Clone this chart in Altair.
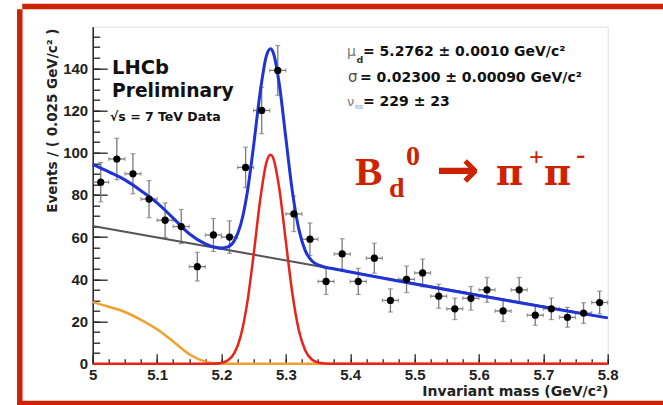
import altair as alt
import pandas as pd

# ---------------- data ----------------
mass = [5.0125, 5.0375, 5.0625, 5.0875, 5.1125, 5.1375, 5.1625, 5.1875,
        5.2125, 5.2375, 5.2625, 5.2875, 5.3125, 5.3375, 5.3625, 5.3875,
        5.4125, 5.4375, 5.4625, 5.4875, 5.5125, 5.5375, 5.5625, 5.5875,
        5.6125, 5.6375, 5.6625, 5.6875, 5.7125, 5.7375, 5.7625, 5.7875]
events = [86, 97, 90, 78, 68, 65, 46, 61, 60, 93, 120, 139, 71, 59, 39, 52,
          39, 50, 30, 40, 43, 32, 26, 31, 35, 25, 35, 23, 26, 22, 24, 29]
errors = [9.3, 9.8, 9.5, 8.8, 8.2, 8.1, 6.8, 7.8, 7.7, 9.6, 11.0, 11.8, 8.4, 7.7, 6.2, 7.2,
          6.2, 7.1, 5.5, 6.3, 6.6, 5.7, 5.1, 5.6, 5.9, 5.0, 5.9, 4.8, 5.1, 4.7, 4.9, 5.4]

bkg_mass = [5.0, 5.8]
bkg_val = [65.3, 21.7]

part_mass = [5.0, 5.025, 5.05, 5.075, 5.1, 5.125, 5.15, 5.175, 5.19, 5.2, 5.8]
part_val = [29.2, 27.0, 24.5, 20.8, 16.3, 10.5, 4.5, 1.0, 0.2, 0.0, 0.0]

sig_mass = [5.0, 5.18, 5.19, 5.20, 5.21, 5.22, 5.23, 5.24, 5.25, 5.26, 5.27, 5.2762,
            5.28, 5.29, 5.30, 5.31, 5.32, 5.33, 5.34, 5.35, 5.36, 5.37, 5.8]
sig_val = [0.0, 0.0, 0.1, 0.4, 1.6, 5.0, 13.2, 28.7, 51.7, 77.2, 95.5, 99.0,
           97.7, 82.7, 58.0, 33.6, 16.1, 6.4, 2.1, 0.6, 0.1, 0.0, 0.0]

tot_mass = [5.0, 5.025, 5.05, 5.075, 5.1, 5.125, 5.15, 5.175, 5.19, 5.20, 5.21, 5.22,
            5.23, 5.24, 5.25, 5.26, 5.27, 5.2762, 5.28, 5.29, 5.30, 5.31, 5.32, 5.33,
            5.34, 5.35, 5.36, 5.37, 5.8]
tot_val = [94.5, 90.9, 87.1, 82.0, 76.2, 69.0, 61.6, 56.8, 55.2, 54.8, 55.4, 58.3,
           66.0, 80.9, 103.4, 128.3, 146.1, 149.3, 147.8, 132.2, 107.0, 82.0, 64.0, 53.7,
           48.9, 46.8, 45.8, 45.2, 21.7]

x_major = [5.0, 5.1, 5.2, 5.3, 5.4, 5.5, 5.6, 5.7, 5.8]
x_minor = [5.0, 5.025, 5.05, 5.075, 5.1, 5.125, 5.15, 5.175, 5.2, 5.225, 5.25, 5.275,
           5.3, 5.325, 5.35, 5.375, 5.4, 5.425, 5.45, 5.475, 5.5, 5.525, 5.55, 5.575,
           5.6, 5.625, 5.65, 5.675, 5.7, 5.725, 5.75, 5.775, 5.8]
y_major = [0, 20, 40, 60, 80, 100, 120, 140]
y_minor = [0, 5, 10, 15, 20, 25, 30, 35, 40, 45, 50, 55, 60, 65, 70, 75, 80, 85, 90,
           95, 100, 105, 110, 115, 120, 125, 130, 135, 140, 145, 150, 155]

# ---------------- layout ----------------
X0, Y0 = 92.7, 26.7
W, H = 515, 337
RED = "#cc2200"

pts = pd.DataFrame({"mass": mass, "events": events, "err": errors})
one = pd.DataFrame({"m": [5.4], "v": [50]})

xsc = alt.Scale(domain=[5.0, 5.8], nice=False, zero=False)
ysc = alt.Scale(domain=[0, 159.7], nice=False, zero=False)


def X(f):
    return alt.X(f, type="quantitative", scale=xsc, axis=None)


def Y(f):
    return alt.Y(f, type="quantitative", scale=ysc, axis=None)


def curve(ms, vs, color, width):
    df = pd.DataFrame({"m": ms, "v": vs})
    return alt.Chart(df).mark_line(color=color, strokeWidth=width, interpolate="monotone").encode(
        x=X("m"), y=Y("v"))


# error bars
vbar = alt.Chart(pts).transform_calculate(
    lo="datum.events - datum.err", hi="datum.events + datum.err"
).mark_rule(color="#7a7a7a", strokeWidth=1.3).encode(x=X("mass"), y=Y("lo"), y2="hi:Q")
hbar = alt.Chart(pts).transform_calculate(
    xl="datum.mass - 0.0125", xh="datum.mass + 0.0125"
).mark_rule(color="#7a7a7a", strokeWidth=1.3).encode(x=X("xl"), x2="xh:Q", y=Y("events"))
vcap = alt.Chart(pts).transform_calculate(
    lo="datum.events - datum.err", hi="datum.events + datum.err"
).transform_fold(["lo", "hi"]).mark_tick(
    orient="horizontal", size=5, thickness=1.2, color="#7a7a7a").encode(x=X("mass"), y=Y("value"))
hcap = alt.Chart(pts).transform_calculate(
    xl="datum.mass - 0.0125", xh="datum.mass + 0.0125"
).transform_fold(["xl", "xh"]).mark_tick(
    orient="vertical", size=4, thickness=1.2, color="#7a7a7a").encode(x=X("value"), y=Y("events"))
dots = alt.Chart(pts).mark_circle(size=52, color="black", opacity=1).encode(x=X("mass"), y=Y("events"))

# axes
lab_font = "Liberation Sans"
ax_main = alt.Chart(one).mark_point(opacity=0).encode(
    x=alt.X("m:Q", scale=xsc, axis=alt.Axis(
        orient="bottom", values=x_major, format=".1~f", ticks=False, tickSize=0,
        domainColor="#222222", domainWidth=1.5, grid=False, labelOverlap=False, labelFlush=False,
        labelFont=lab_font, labelFontWeight="bold", labelFontSize=15, labelColor="#222222",
        labelPadding=4, title="Invariant mass (GeV/c²)", titleFont="DejaVu Sans",
        titleFontWeight="bold", titleFontSize=14, titleColor="#222222", titleX=W + 0.3,
        titleY=31.7, titleAlign="right", titleBaseline="alphabetic", titleAnchor="end")),
    y=alt.Y("v:Q", scale=ysc, axis=alt.Axis(
        orient="left", values=y_major, ticks=False, tickSize=0,
        domainColor="#222222", domainWidth=1.5, grid=False, labelOverlap=False, labelFlush=False,
        labelFont=lab_font, labelFontWeight="bold", labelFontSize=15, labelColor="#222222",
        labelPadding=5, title="Events / ( 0.025 GeV/c² )", titleFont="DejaVu Sans",
        titleFontWeight="bold", titleFontSize=13.5, titleColor="#222222", titleX=-39.7,
        titleY=1.3, titleAngle=270, titleAlign="right", titleBaseline="middle",
        titleAnchor="end")),
)


def tick_layer(xv, yv, xs, ys):
    return alt.Chart(one).mark_point(opacity=0).encode(
        x=alt.X("m:Q", scale=xsc, axis=alt.Axis(
            orient="top", offset=-H, values=xv, labels=False, domain=False, grid=False,
            tickSize=xs, tickColor="#222222", tickWidth=1.3, title=None)),
        y=alt.Y("v:Q", scale=ysc, axis=alt.Axis(
            orient="right", offset=-W, values=yv, labels=False, domain=False, grid=False,
            tickSize=ys, tickColor="#222222", tickWidth=1.3, title=None)),
    )


ax_major = tick_layer(x_major, y_major, 10, 14.5)
ax_minor = tick_layer(x_minor, y_minor, 5, 7)


def txt(text, px, py, size, font="DejaVu Sans", weight="bold", color="#111111"):
    return alt.Chart(one).mark_text(
        text=text, font=font, fontSize=size, fontWeight=weight, color=color,
        align="left", baseline="alphabetic").encode(x=alt.value(px - X0), y=alt.value(py - Y0))


def edge(ax, ay, bx, by):
    # decorative slide frame edge, in page pixels
    return alt.Chart(one).mark_rule(color=RED, strokeWidth=5.5, strokeCap="square").encode(
        x=alt.value(ax - X0), x2=alt.value(bx - X0), y=alt.value(ay - Y0), y2=alt.value(by - Y0))


frame = [
    edge(25, 6.5, 680, 6.5),
    edge(19.8, 12, 19.8, 420),
    edge(19.8, 403.5, 680, 403.5),
]

texts = [
    txt("LHCb", 112, 74.3, 19.5),
    txt("Preliminary", 112, 96.7, 18.7),
    txt("√s = 7 TeV Data", 110, 121, 12.5),
    txt("μ", 347, 56, 14, weight="normal", color="#777777"),
    txt("d", 356.5, 63, 9.5, color="#333333"),
    txt("= 5.2762 ± 0.0010 GeV/c²", 363, 56, 14),
    txt("σ", 348, 82, 15, weight="normal", color="#555555"),
    txt("= 0.02300 ± 0.00090 GeV/c²", 360, 82, 14),
    txt("ν", 347, 106, 13, weight="normal", color="#777777"),
    txt("ππ", 355, 109, 6.5, weight="normal", color="#888888"),
    txt("= 229 ± 23", 363, 106, 14),
    txt("B", 355, 185, 41, font="Liberation Serif", color=RED),
    txt("d", 389, 197, 28, font="Liberation Serif", color=RED),
    txt("0", 406, 165, 28, font="Liberation Serif", color=RED),
    txt("→", 436, 187, 52, font="DejaVu Sans", color=RED),
    txt("π", 496, 185, 37, font="DejaVu Serif", color=RED),
    txt("+", 529, 166, 26, font="Liberation Serif", color=RED),
    txt("π", 544, 185, 37, font="DejaVu Serif", color=RED),
    txt("-", 576, 163, 28, font="Liberation Serif", color=RED),
]

chart = alt.layer(
    *frame, ax_minor, ax_major, ax_main,
    vbar, hbar, vcap, hcap,
    curve(bkg_mass, bkg_val, "#555555", 2),
    curve(part_mass, part_val, "#f0a030", 2.5),
    curve(sig_mass, sig_val, "#e8231a", 2.5),
    curve(tot_mass, tot_val, "#1f33d6", 3),
    dots,
    *texts,
).resolve_axis(x="independent", y="independent").properties(
    width=W, height=H,
    padding={"left": X0, "top": Y0, "right": 663 - X0 - W, "bottom": 405 - Y0 - H},
    autosize=alt.AutoSizeParams(type="none"),
).configure_view(stroke="#8a8a8a", strokeWidth=1.5).configure(background="white")

chart.save("out.html", embed_options={"renderer": "svg", "actions": False})
